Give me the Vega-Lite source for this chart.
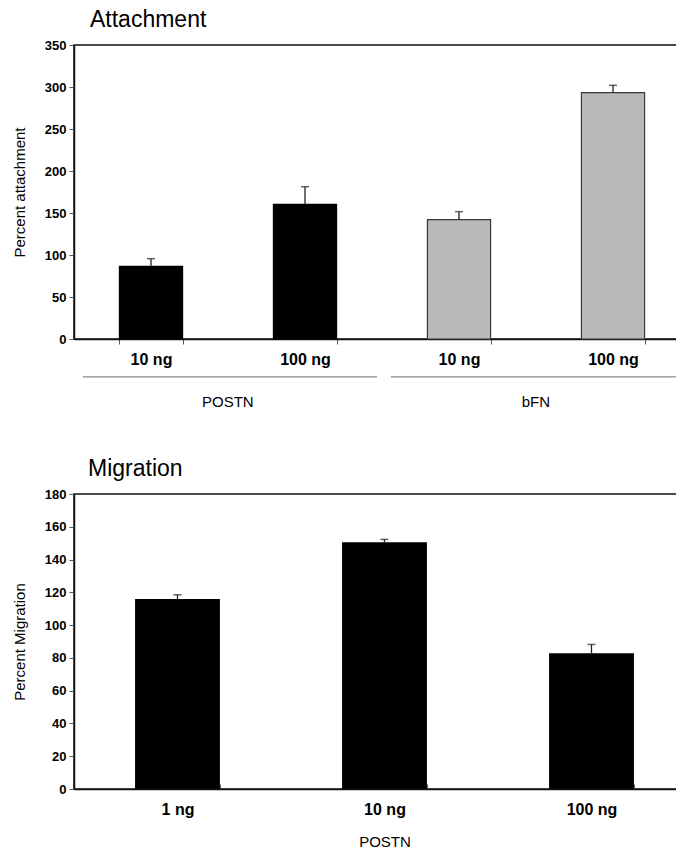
{
  "$schema": "https://vega.github.io/schema/vega-lite/v6.json",
  "padding": {"left": 11, "top": 8, "right": -20, "bottom": 0},
  "background": "white",
  "config": {
    "font": "Liberation Sans",
    "view": {"stroke": "#111", "strokeWidth": 1.5},
    "axis": {"grid": false, "domainColor": "#111", "domainWidth": 1.5, "tickColor": "#555", "labelFont": "Liberation Sans", "labelFontWeight": "bold", "labelColor": "#000", "titleFont": "Liberation Sans", "titleFontWeight": "normal", "titleColor": "#000", "labelOverlap": false},
    "title": {"font": "Liberation Sans", "fontSize": 23, "fontWeight": "normal", "anchor": "start", "frame": "group", "color": "#000"},
    "concat": {"spacing": 46}
  },
  "datasets": {
    "attach": [
      {"key": "POSTN 10 ng", "group": "POSTN", "value": 86.5, "hi": 95.6},
      {"key": "POSTN 100 ng", "group": "POSTN", "value": 160.3, "hi": 181.3},
      {"key": "bFN 10 ng", "group": "bFN", "value": 142, "hi": 151.6},
      {"key": "bFN 100 ng", "group": "bFN", "value": 293.2, "hi": 302}
    ],
    "groups": [
      {"group": "POSTN", "from": "POSTN 10 ng", "to": "POSTN 100 ng"},
      {"group": "bFN", "from": "bFN 10 ng", "to": "bFN 100 ng"}
    ],
    "migr": [
      {"dose": "1 ng", "value": 115.9, "hi": 118.5},
      {"dose": "10 ng", "value": 150.5, "hi": 152.3},
      {"dose": "100 ng", "value": 82.9, "hi": 88.2}
    ]
  },
  "vconcat": [
    {
      "title": {"text": "Attachment", "dx": 16, "offset": 7},
      "width": 616,
      "height": 294,
      "layer": [
        {
          "data": {"name": "attach"},
          "mark": {"type": "bar", "strokeWidth": 1.2},
          "encoding": {
            "x": {"field": "key", "type": "nominal", "sort": null,
              "scale": {"domain": ["POSTN 10 ng", "POSTN 100 ng", "bFN 10 ng", "bFN 100 ng"], "paddingInner": 0.59, "paddingOuter": 0.295},
              "axis": {"title": null, "labelAngle": 0, "labelExpr": "datum.label ? split(datum.label, ' ')[1] + ' ng' : ''", "labelFontSize": 16, "labelPadding": 7, "tickBand": "extent", "tickSize": 5}},
            "y": {"field": "value", "type": "quantitative", "scale": {"domain": [0, 350]},
              "axis": {"title": "Percent attachment", "values": [0, 50, 100, 150, 200, 250, 300, 350], "labelOverlap": false, "labelFontSize": 13, "titleFontSize": 15, "tickSize": 5, "labelPadding": 3, "titlePadding": 17}},
            "fill": {"field": "group", "type": "nominal", "scale": {"domain": ["POSTN", "bFN"], "range": ["#000000", "#b9b9b9"]}, "legend": null},
            "stroke": {"field": "group", "type": "nominal", "scale": {"domain": ["POSTN", "bFN"], "range": ["#000000", "#3a3a3a"]}, "legend": null}
          }
        },
        {
          "data": {"name": "attach"},
          "mark": {"type": "rule", "color": "#222", "strokeWidth": 1.3},
          "encoding": {
            "x": {"field": "key", "type": "nominal"},
            "y": {"field": "value", "type": "quantitative"},
            "y2": {"field": "hi"}
          }
        },
        {
          "data": {"name": "attach"},
          "mark": {"type": "tick", "color": "#222", "thickness": 1.5, "size": 8, "orient": "horizontal"},
          "encoding": {
            "x": {"field": "key", "type": "nominal"},
            "y": {"field": "hi", "type": "quantitative"}
          }
        },
        {
          "data": {"name": "groups"},
          "mark": {"type": "rule", "color": "#8a8a8a", "strokeWidth": 1.2},
          "encoding": {
            "x": {"field": "from", "type": "nominal", "bandPosition": -0.58},
            "x2": {"field": "to", "bandPosition": 1.64},
            "y": {"datum": -45, "type": "quantitative"}
          }
        },
        {
          "data": {"name": "groups"},
          "mark": {"type": "text", "fontSize": 15, "baseline": "middle", "font": "Liberation Sans", "color": "#000"},
          "encoding": {
            "x": {"field": "to", "type": "nominal", "bandPosition": -0.722},
            "y": {"datum": -75, "type": "quantitative"},
            "text": {"field": "group"}
          }
        }
      ]
    },
    {
      "title": {"text": "Migration", "dx": 14, "offset": 7},
      "width": 621,
      "height": 295,
      "data": {"name": "migr"},
      "layer": [
        {
          "mark": {"type": "bar", "color": "#000"},
          "encoding": {
            "x": {"field": "dose", "type": "nominal", "sort": null,
              "scale": {"paddingInner": 0.59, "paddingOuter": 0.295},
              "axis": {"title": "POSTN", "titleFontSize": 15, "titlePadding": 17, "labelAngle": 0, "labelFontSize": 16, "labelPadding": 17, "tickBand": "extent", "tickSize": -5}},
            "y": {"field": "value", "type": "quantitative", "scale": {"domain": [0, 180]},
              "axis": {"title": "Percent Migration", "values": [0, 20, 40, 60, 80, 100, 120, 140, 160, 180], "labelOverlap": false, "labelSeparation": 0, "labelFontSize": 13, "titleFontSize": 15, "tickSize": 5, "labelPadding": 3, "titlePadding": 17}}
          }
        },
        {
          "mark": {"type": "rule", "color": "#222", "strokeWidth": 1.3},
          "encoding": {
            "x": {"field": "dose", "type": "nominal", "sort": null},
            "y": {"field": "value", "type": "quantitative",
              "axis": {"title": "Percent Migration", "values": [0, 20, 40, 60, 80, 100, 120, 140, 160, 180], "labelOverlap": false, "labelSeparation": 0, "labelFontSize": 13, "titleFontSize": 15, "tickSize": 5, "labelPadding": 3, "titlePadding": 17}},
            "y2": {"field": "hi"}
          }
        },
        {
          "mark": {"type": "tick", "color": "#222", "thickness": 1.5, "size": 8, "orient": "horizontal"},
          "encoding": {
            "x": {"field": "dose", "type": "nominal", "sort": null},
            "y": {"field": "hi", "type": "quantitative",
              "axis": {"title": "Percent Migration", "values": [0, 20, 40, 60, 80, 100, 120, 140, 160, 180], "labelOverlap": false, "labelSeparation": 0, "labelFontSize": 13, "titleFontSize": 15, "tickSize": 5, "labelPadding": 3, "titlePadding": 17}}
          }
        }
      ]
    }
  ]
}
